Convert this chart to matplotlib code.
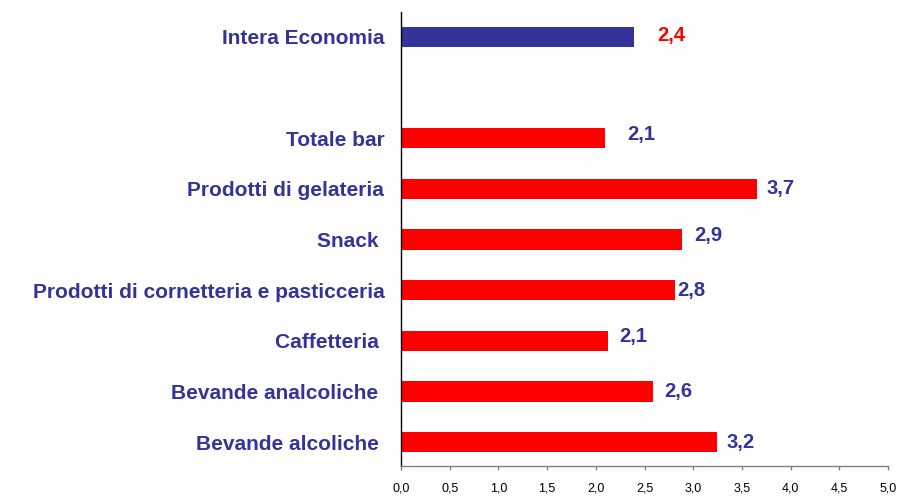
import matplotlib
matplotlib.use("Agg")
import matplotlib.pyplot as plt

categories = ["Bevande alcoliche ", "Bevande analcoliche ", "Caffetteria ",
              "Prodotti di cornetteria e pasticceria", "Snack ",
              "Prodotti di gelateria", "Totale bar", "Intera Economia"]
values = [3.24, 2.59, 2.13, 2.81, 2.88, 3.65, 2.09, 2.39]
value_labels = ["3,2", "2,6", "2,1", "2,8", "2,9", "3,7", "2,1", "2,4"]
positions = [0, 1, 2, 3, 4, 5, 6, 8]
xticks = [0, 0.5, 1, 1.5, 2, 2.5, 3, 3.5, 4, 4.5, 5]
xtick_labels = ["0,0", "0,5", "1,0", "1,5", "2,0", "2,5", "3,0", "3,5", "4,0", "4,5", "5,0"]

BLUE = "#333399"
RED = "#FF0000"
bar_colors = [RED] * 7 + [BLUE]
label_colors = [BLUE] * 7 + [RED]
label_offsets = [7, 8, 8, 2, 9, 7, 16, 17]  # points
label_dy = [0, 0, 3, 0, 3, 0, 3, 1]

plt.rcParams['font.family'] = ['Liberation Sans', 'DejaVu Sans']

fig = plt.figure(figsize=(9.01, 4.96), dpi=100)
ax = fig.add_axes([401/901, 30/496, 487/901, 454/496])

ax.barh(positions, values, height=0.4, color=bar_colors, edgecolor='none', zorder=2)

for p, v, lab, c, dx, dy in zip(positions, values, value_labels, label_colors, label_offsets, label_dy):
    ax.annotate(lab, xy=(v, p), xytext=(dx, dy), textcoords='offset points',
                ha='left', va='center', fontsize=14.5, fontweight='bold', color=c)

ax.set_xlim(0, 5)
ax.set_ylim(-0.47, 8.49)
ax.set_xticks(xticks)
ax.set_xticklabels(xtick_labels, fontsize=9)
ax.set_yticks(positions)
ax.set_yticklabels(categories, fontsize=15, fontweight='bold', color=BLUE)
ax.tick_params(axis='y', length=0, pad=12)
ax.tick_params(axis='x', length=3, width=1, color='#808080', pad=9)

for s in ['top', 'right']:
    ax.spines[s].set_visible(False)
ax.spines['left'].set_color('black')
ax.spines['left'].set_linewidth(1)
ax.spines['bottom'].set_color('#808080')
ax.spines['bottom'].set_linewidth(1)

fig.savefig("out.png", dpi=100)
